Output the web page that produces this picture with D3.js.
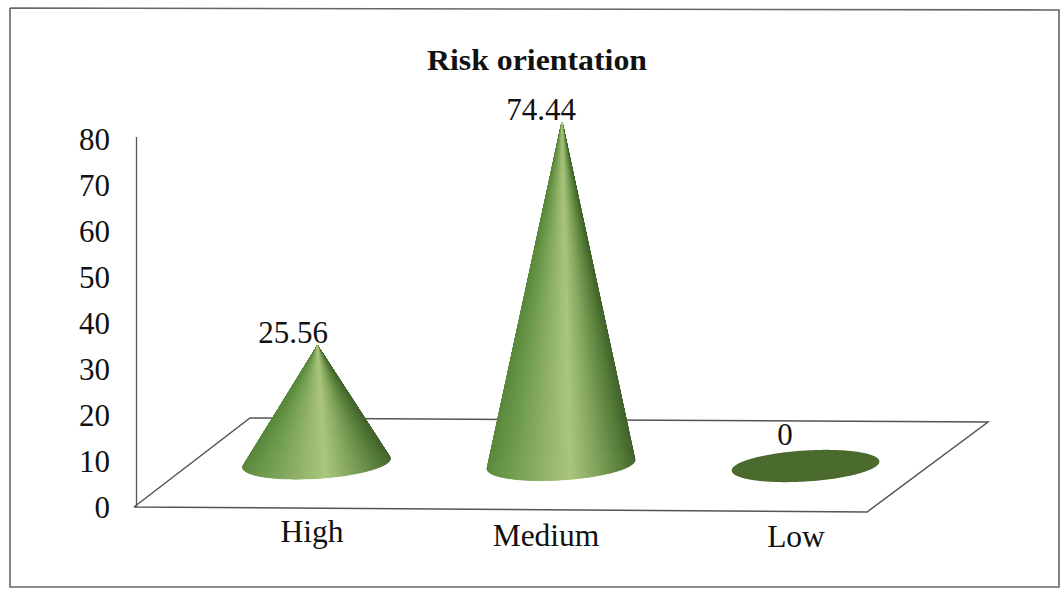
<!DOCTYPE html>
<html>
<head>
<meta charset="utf-8">
<style>
  html, body { margin: 0; padding: 0; background: #fff; }
  svg { display: block; }
  text { font-family: "Liberation Serif", "Times New Roman", serif; fill: #111; }
</style>
<script src="https://cdn.jsdelivr.net/npm/d3@7/dist/d3.min.js"></script>
</head>
<body>
<svg id="chart" width="1061" height="589"></svg>
<script>
const categories = ["High", "Medium", "Low"];
const values = [25.56, 74.44, 0];
const yTicks = [0, 10, 20, 30, 40, 50, 60, 70, 80];
const chartTitle = "Risk orientation";

const svg = d3.select("#chart");
const lineColor = "#555";

// Scales: value to pixel length, category to cone centre, label anchor and base height
const y = d3.scaleLinear().domain([0, 80]).range([507, 139]);
const coneHeight = d3.scaleLinear().domain([0, 80]).range([0, 368]);
const xCone = d3.scalePoint().domain(categories).range([316.5, 805.5]);
const baseY = d3.scalePoint().domain(categories).range([463, 466]);
const xLabel = d3.scaleOrdinal().domain(categories).range([312, 546, 796]);
const yLabel = d3.scaleOrdinal().domain(categories).range([542, 546, 547]);
const xValueLabel = d3.scaleOrdinal().domain(categories).range([293, 541, 785]);

// Outer frame
svg.append("path")
  .attr("d", d3.line()([[10, 8], [1059, 10], [1059, 587], [10, 587], [10, 8]]))
  .attr("fill", "none").attr("stroke", "#666").attr("stroke-width", 1.6);

// Title
svg.append("text")
  .attr("x", 537).attr("y", 70)
  .attr("text-anchor", "middle")
  .attr("font-size", 29).attr("font-weight", "bold")
  .attr("textLength", 220).attr("lengthAdjust", "spacingAndGlyphs")
  .text(chartTitle);

// Floor of the 3D plot
svg.append("path")
  .attr("d", d3.line()([[134, 507], [250, 418], [988, 422], [867, 512], [134, 507]]))
  .attr("fill", "none").attr("stroke", lineColor).attr("stroke-width", 1.5);

// Value axis
const axis = svg.append("g")
  .attr("transform", "translate(136,0)")
  .call(d3.axisLeft(y).tickValues(yTicks).tickSize(0).tickPadding(26));
axis.select(".domain").remove();
axis.selectAll("text").attr("font-size", 31).attr("dy", "0.34em")
  .style("font-family", '"Liberation Serif", serif').attr("fill", "#111");
svg.append("line")
  .attr("x1", 136.5).attr("x2", 136.5).attr("y1", 137).attr("y2", 507)
  .attr("stroke", lineColor).attr("stroke-width", 1.3);

// Cone shading runs from the lit left side through a pale band into a dark right side
const shade = d3.scaleLinear()
  .domain([-1, -0.7, -0.2, 0.12, 0.5, 0.85, 1])
  .range(["#5e8b40", "#6f9b4e", "#94b56c", "#abc67f", "#7fa25a", "#547a38", "#45652e"])
  .interpolate(d3.interpolateRgb);

const rx = 74, ry = 15.5, tilt = -3.6 * Math.PI / 180;
const rim = (cx, cy, t) => {
  const px = rx * Math.cos(t), py = ry * Math.sin(t);
  return [cx + px * Math.cos(tilt) - py * Math.sin(tilt),
          cy + px * Math.sin(tilt) + py * Math.cos(tilt)];
};

const angleStep = Math.PI / 150;
const slices = d3.range(-Math.PI, Math.PI, angleStep);
// Back half first, so the front of the cone paints over it
const ordered = slices.slice().sort((a, b) => Math.sin(a) - Math.sin(b));

categories.forEach((cat, i) => {
  const cx = xCone(cat), cy = baseY(cat), h = coneHeight(values[i]);
  const g = svg.append("g").attr("class", "cone");

  // Base disc: all that shows of a cone with a height of zero
  g.append("path")
    .attr("d", d3.line().curve(d3.curveLinearClosed)(slices.map(t => rim(cx, cy, t))))
    .attr("fill", h > 0 ? "#9db878" : "#4b6a2e");

  if (h > 0) {
    const apex = [cx + 1, cy - h];
    g.selectAll("path.slice").data(ordered).join("path")
      .attr("class", "slice")
      .attr("d", t => d3.line()([apex, rim(cx, cy, t), rim(cx, cy, t + angleStep * 1.2)]) + "Z")
      .attr("fill", t => shade(Math.cos(t)))
      .attr("stroke", t => shade(Math.cos(t)))
      .attr("stroke-width", 0.4);
  }

  // Value label above the apex; a flat cone's label clears the disc
  g.append("text")
    .attr("x", xValueLabel(cat))
    .attr("y", h > 0 ? cy - h - 2 : cy - 21)
    .attr("text-anchor", "middle")
    .attr("font-size", 31)
    .text(values[i]);

  // Category label
  svg.append("text")
    .attr("x", xLabel(cat)).attr("y", yLabel(cat))
    .attr("text-anchor", "middle").attr("font-size", 31.5)
    .text(cat);
});
</script>
</body>
</html>
